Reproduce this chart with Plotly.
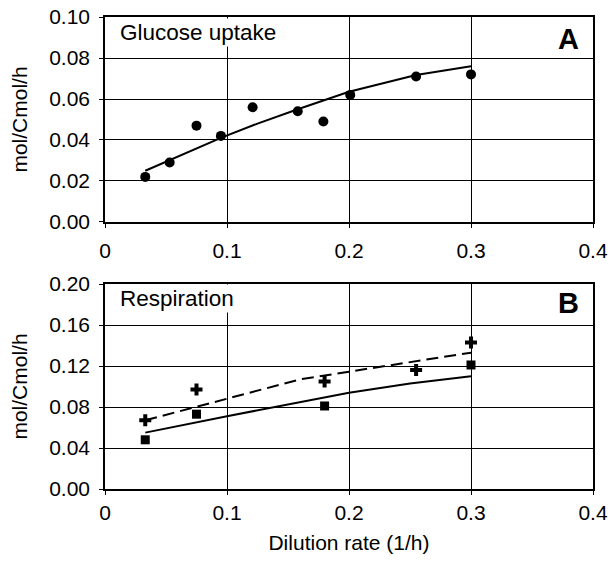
import plotly.graph_objects as go

# Glucose uptake (panel A)
glc_x = [0.033, 0.053, 0.075, 0.095, 0.121, 0.158, 0.179, 0.201, 0.255, 0.300]
glc_y = [0.022, 0.029, 0.047, 0.042, 0.056, 0.054, 0.049, 0.062, 0.071, 0.072]
glc_fit_x = [0.033, 0.060, 0.095, 0.125, 0.158, 0.200, 0.255, 0.300]
glc_fit_y = [0.025, 0.032, 0.041, 0.048, 0.055, 0.0635, 0.0717, 0.076]

# Respiration (panel B)
sq_x = [0.033, 0.075, 0.180, 0.300]
sq_y = [0.048, 0.073, 0.081, 0.121]
plus_x = [0.033, 0.075, 0.180, 0.255, 0.300]
plus_y = [0.067, 0.097, 0.105, 0.116, 0.143]
solid_x = [0.033, 0.100, 0.200, 0.250, 0.300]
solid_y = [0.055, 0.071, 0.094, 0.103, 0.110]
dash_x = [0.033, 0.100, 0.160, 0.200, 0.300]
dash_y = [0.067, 0.088, 0.107, 0.1145, 0.133]

x_ticks = [0, 0.1, 0.2, 0.3, 0.4]
x_labels = ["0", "0.1", "0.2", "0.3", "0.4"]
ya_ticks = [0, 0.02, 0.04, 0.06, 0.08, 0.10]
yb_ticks = [0, 0.04, 0.08, 0.12, 0.16, 0.20]

FONT = "Liberation Sans, Arial, sans-serif"

fig = go.Figure()
fig.add_trace(go.Scatter(x=glc_fit_x, y=glc_fit_y, mode="lines",
                         line=dict(color="black", width=2), xaxis="x", yaxis="y"))
fig.add_trace(go.Scatter(x=glc_x, y=glc_y, mode="markers",
                         marker=dict(symbol="circle", size=10, color="black"),
                         xaxis="x", yaxis="y"))
fig.add_trace(go.Scatter(x=solid_x, y=solid_y, mode="lines",
                         line=dict(color="black", width=2), xaxis="x2", yaxis="y2"))
fig.add_trace(go.Scatter(x=dash_x, y=dash_y, mode="lines",
                         line=dict(color="black", width=2, dash="12px,6px"),
                         xaxis="x2", yaxis="y2"))
fig.add_trace(go.Scatter(x=sq_x, y=sq_y, mode="markers",
                         marker=dict(symbol="square", size=9, color="black"),
                         xaxis="x2", yaxis="y2"))
fig.add_trace(go.Scatter(x=plus_x, y=plus_y, mode="markers",
                         marker=dict(symbol="cross", size=10, color="black"),
                         xaxis="x2", yaxis="y2"))

xax = dict(range=[0, 0.4], tickvals=x_ticks, ticktext=x_labels,
           showgrid=True, gridcolor="black", gridwidth=1,
           showline=True, mirror=True, linecolor="black", linewidth=1.5,
           ticks="outside", ticklen=4, tickcolor="black", ticklabelstandoff=5,
           ticklabeloverflow="allow",
           zeroline=False, tickfont=dict(size=21, color="black"))
yax = dict(showgrid=True, gridcolor="black", gridwidth=1,
           showline=True, mirror=True, linecolor="black", linewidth=1.5,
           ticks="outside", ticklen=4, tickcolor="black", ticklabelstandoff=5,
           ticklabeloverflow="allow",
           zeroline=False, tickformat=".2f", tickfont=dict(size=21, color="black"),
           title=dict(text="mol/Cmol/h", font=dict(size=21, color="black"), standoff=16))

fig.update_layout(
    width=610, height=562,
    margin=dict(l=105, r=17, t=17, b=73, autoexpand=False),
    paper_bgcolor="white", plot_bgcolor="white",
    showlegend=False,
    font=dict(family=FONT, color="black"),
    xaxis=dict(xax, anchor="y"),
    yaxis=dict(yax, domain=[0.5657, 1], range=[0, 0.10], tickvals=ya_ticks, anchor="x"),
    xaxis2=dict(xax, anchor="y2", ticklabelstandoff=0,
                title=dict(text="Dilution rate (1/h)", font=dict(size=21, color="black"),
                           standoff=12)),
    yaxis2=dict(yax, domain=[0, 0.4343], range=[0, 0.20], tickvals=yb_ticks, anchor="x2"),
    annotations=[
        dict(text="Glucose uptake", x=0.011, y=0.0925, xref="x", yref="y",
             xanchor="left", yanchor="middle", showarrow=False,
             font=dict(size=22.5, color="black"), bgcolor="white"),
        dict(text="<b>A</b>", x=0.39, y=0.0895, xref="x", yref="y",
             xanchor="right", yanchor="middle", showarrow=False,
             font=dict(size=29, color="black"), bgcolor="white"),
        dict(text="Respiration", x=0.011, y=0.1855, xref="x2", yref="y2",
             xanchor="left", yanchor="middle", showarrow=False,
             font=dict(size=22.5, color="black"), bgcolor="white"),
        dict(text="<b>B</b>", x=0.39, y=0.181, xref="x2", yref="y2",
             xanchor="right", yanchor="middle", showarrow=False,
             font=dict(size=29, color="black"), bgcolor="white"),
    ],
)

# drop the default body margin so the 610x562 figure fills the window
fig.write_html("out.html", config={"displayModeBar": False},
               post_script="document.body.style.margin='0';document.body.style.overflow='hidden';")
